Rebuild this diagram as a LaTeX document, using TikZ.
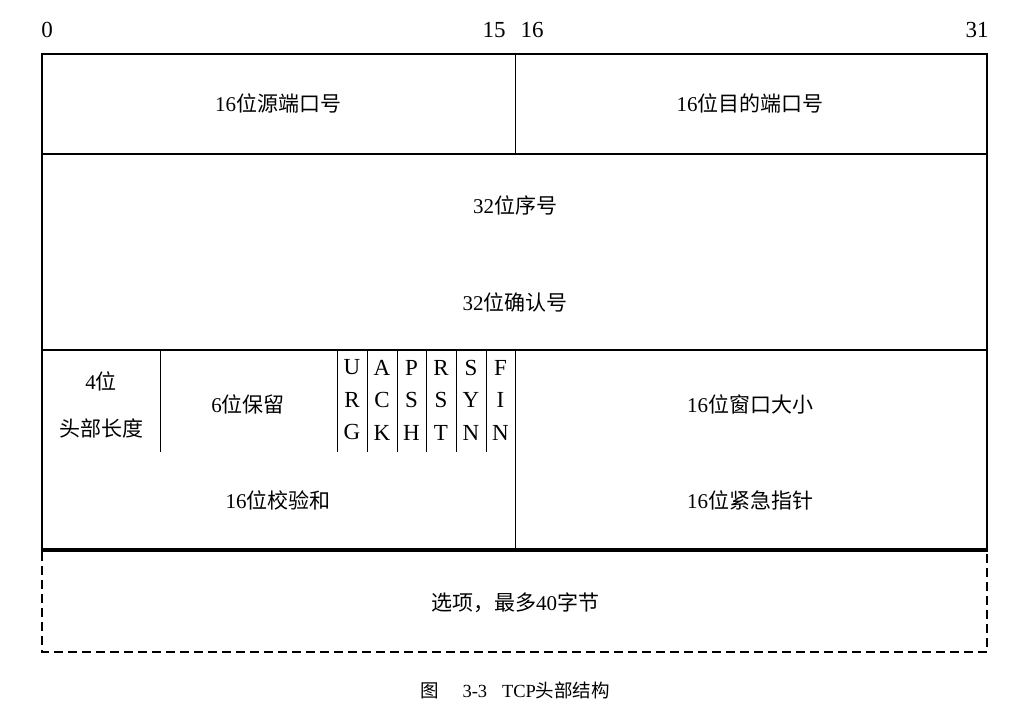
\documentclass[tikz,border=0pt]{standalone}
\usepackage{fontspec}
\setmainfont{Liberation Serif}
\newfontfamily\cjk{Noto Sans CJK SC}
\begin{document}
\begin{tikzpicture}[x=1pt,y=-1pt,
  field/.style={inner sep=0pt,font=\fontsize{21}{26}\selectfont,align=center},
  bitlbl/.style={inner sep=0pt,font=\fontsize{23}{26}\selectfont},
  flag/.style={inner sep=0pt,font=\fontsize{23}{32.5}\selectfont,align=center},
  caption/.style={inner sep=0pt,font=\fontsize{18.5}{22}\selectfont},
  rule/.style={line width=2.2pt},
  thin/.style={line width=1pt},
  opt/.style={line width=2pt,dash pattern=on 9pt off 5pt}]
\useasboundingbox[fill=white] (0,0) rectangle (1032,706);
% bit labels
\node[bitlbl] (b0) at (47,30) {0};
\node[bitlbl] (b15) at (494,30) {15};
\node[bitlbl] (b16) at (532,30) {16};
\node[bitlbl] (b31) at (977,30) {31};
% frame
\draw[rule] (42,550) -- (42,54) -- (987,54) -- (987,550);
\draw[rule] (42,154) -- (987,154);
\draw[rule] (42,350) -- (987,350);
\draw[line width=4pt] (41,550) -- (988,550);
\draw[thin] (515,54) -- (515,154);
\draw[thin] (515,350) -- (515,550);
\draw[thin] (160,350) -- (160,452);
\foreach \x in {337,367,397,426,456,486} \draw[thin] (\x,350) -- (\x,452);
\draw[opt] (42,552) -- (42,652) -- (987,652) -- (987,552);
% fields
\node[field] (src) at (278,103) {16{\cjk 位源端口号}};
\node[field] (dst) at (750,103) {16{\cjk 位目的端口号}};
\node[field] (seq) at (515,205) {32{\cjk 位序号}};
\node[field] (ack) at (515,302) {32{\cjk 位确认号}};
\node[field] (hl1) at (101,381) {4{\cjk 位}};
\node[field] (hl2) at (101,428) {\cjk 头部长度};
\node[field] (res) at (248,404) {6{\cjk 位保留}};
\node[flag] (urg) at (352,400) {U\\R\\G};
\node[flag] (fack) at (382,400) {A\\C\\K};
\node[flag] (psh) at (411.5,400) {P\\S\\H};
\node[flag] (rst) at (441,400) {R\\S\\T};
\node[flag] (syn) at (471,400) {S\\Y\\N};
\node[flag] (fin) at (500.5,400) {F\\I\\N};
\node[field] (win) at (750,404) {16{\cjk 位窗口大小}};
\node[field] (chk) at (278,500) {16{\cjk 位校验和}};
\node[field] (urgp) at (750,500) {16{\cjk 位紧急指针}};
\node[field] (opts) at (515,603) {{\cjk 选项，最多}40{\cjk 字节}};
\node[caption] (cap) at (515,690) {{\cjk 图}\hspace{1.3em}3-3\hspace{0.8em}TCP{\cjk 头部结构}};
\end{tikzpicture}
\end{document}
